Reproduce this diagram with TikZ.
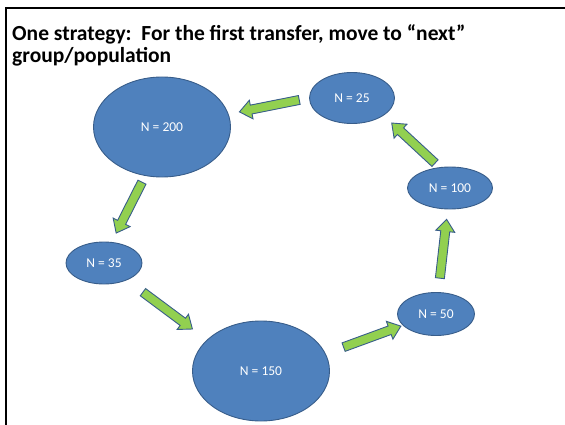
\documentclass[tikz,border=0pt]{standalone}
\usepackage{fontspec}
\setmainfont{Carlito}
\usepackage{xcolor}
\usepackage{tikz}
\usetikzlibrary{shapes.geometric, calc}

\definecolor{popblue}{HTML}{4F81BD}
\definecolor{popline}{HTML}{385D8A}
\definecolor{movegreen}{HTML}{92D050}

% block arrow: from anchor, to anchor, gap at tail, gap at tip
\newcommand{\fatarrow}[4]{%
  \coordinate (tail) at ($(#1)!#3!(#2)$);
  \coordinate (tip) at ($(#2)!#4!(#1)$);
  \draw[move] ($(tail)!4.5pt!90:(tip)$) -- ($(tip)!12pt!(tail)!4.5pt!90:(tip)$)
    -- ($(tip)!12pt!(tail)!9.5pt!90:(tip)$) -- (tip)
    -- ($(tip)!12pt!(tail)!9.5pt!-90:(tip)$) -- ($(tip)!12pt!(tail)!4.5pt!-90:(tip)$)
    -- ($(tail)!4.5pt!-90:(tip)$) -- cycle;
}

\begin{document}
\begin{tikzpicture}[
  x=1pt, y=-1pt,
  pop/.style={ellipse, draw=popline, fill=popblue, line width=0.9pt, inner sep=0pt,
              text=white, font=\fontsize{13.5}{16}\selectfont},
  move/.style={draw=popline, fill=movegreen, line width=0.9pt, line join=miter},
  title/.style={font=\bfseries\fontsize{21.5}{22.5}\selectfont, align=left, inner sep=0pt}
]
  \useasboundingbox (0,0) rectangle (565,425);
  \draw[line width=2.6pt] (6,425) -- (6,8) -- (565,8);

  \node[title, anchor=base west] (head) at (12,63)
    {One strategy:~~For the first transfer, move to “next”\\group/population};

  \node[pop, minimum width=137pt, minimum height=100pt] (n200) at (162,127) {N = 200};
  \node[pop, minimum width=85pt, minimum height=51pt]   (n25)  at (352,98)  {N = 25};
  \node[pop, minimum width=76pt, minimum height=42pt]   (n35)  at (104,263) {N = 35};
  \node[pop, minimum width=137pt, minimum height=100pt] (n150) at (261,371) {N = 150};
  \node[pop, minimum width=77pt, minimum height=43pt]   (n50)  at (436,314) {N = 50};
  \node[pop, minimum width=85pt, minimum height=42pt]   (n100) at (450,188) {N = 100};

  \fatarrow{n25.180}{n200.11}{10pt}{11pt}
  \fatarrow{n200.251}{n35.70}{7pt}{10pt}
  \fatarrow{n35.323}{n150.150}{20pt}{18pt}
  \fatarrow{n150.15}{n50.199}{19pt}{2pt}
  \fatarrow{n50.84}{n100.264}{14pt}{10pt}
  \fatarrow{n100.117}{n25.331}{6pt}{11pt}
\end{tikzpicture}
\end{document}
